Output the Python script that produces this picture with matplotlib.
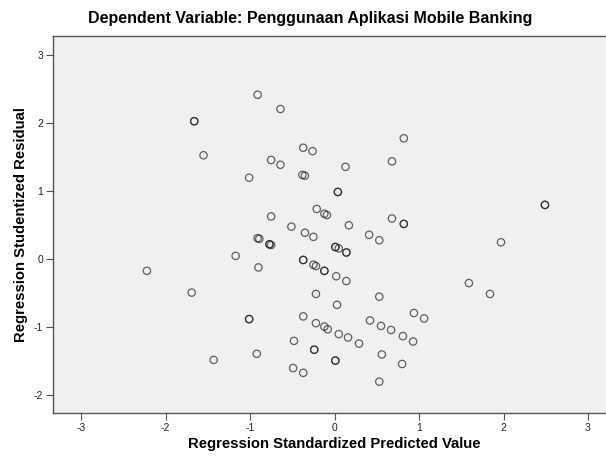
import numpy as np
import matplotlib.pyplot as plt

plt.rcParams['font.family'] = ['Liberation Sans', 'DejaVu Sans']
plt.rcParams['axes.unicode_minus'] = False

# standardized predicted values (x) and studentized residuals (y)
# repeated entries are cases that sit on top of each other
pred = [-0.91, -0.64, -1.66, -1.66, -1.55, -0.75, -0.64, -0.37, -0.26, -1.01,
        -0.38, -0.35, -0.21, -0.75, -0.51, -0.35, -0.25, -0.91, -0.89, -0.77,
        -0.77, -0.75, 0.82, 0.68, 0.13, 0.04, 0.04, -0.12, -0.09, 0.17,
        0.68, 0.82, 0.82, 2.49, 2.49, 0.41, 0.53, 1.97, -1.17, -0.90,
        -2.22, -1.69, -0.37, -0.37, -0.25, -0.22, -0.22, -1.01, -1.01, -0.37,
        -0.22, -0.48, -0.24, -0.24, -0.92, -1.43, -0.49, -0.37, 0.01, 0.01,
        0.05, 0.14, 0.14, -0.12, -0.12, 0.02, 0.14, 0.03, 0.53, 1.59,
        1.84, 0.94, 1.06, -0.12, -0.08, 0.05, 0.16, 0.29, 0.42, 0.55,
        0.67, 0.81, 0.93, 0.01, 0.01, 0.56, 0.80, 0.53]
resid = [2.42, 2.21, 2.03, 2.03, 1.53, 1.46, 1.39, 1.64, 1.59, 1.20,
         1.24, 1.23, 0.74, 0.63, 0.48, 0.39, 0.33, 0.31, 0.30, 0.22,
         0.22, 0.21, 1.78, 1.44, 1.36, 0.99, 0.99, 0.67, 0.65, 0.50,
         0.60, 0.52, 0.52, 0.80, 0.80, 0.36, 0.28, 0.25, 0.05, -0.12,
         -0.17, -0.49, -0.01, -0.01, -0.08, -0.10, -0.51, -0.88, -0.88, -0.84,
         -0.94, -1.20, -1.33, -1.33, -1.39, -1.48, -1.60, -1.67, 0.18, 0.18,
         0.16, 0.10, 0.10, -0.17, -0.17, -0.25, -0.32, -0.67, -0.55, -0.35,
         -0.51, -0.79, -0.87, -0.99, -1.03, -1.10, -1.15, -1.24, -0.90, -0.98,
         -1.04, -1.13, -1.21, -1.49, -1.49, -1.40, -1.54, -1.80]

x_ticks = [-3, -2, -1, 0, 1, 2, 3]
y_ticks = [-2, -1, 0, 1, 2, 3]

fig = plt.figure(figsize=(6.06, 4.59), dpi=100)
ax = fig.add_axes([0.0875, 0.0996, 0.929, 0.822])
ax.set_facecolor('#f0f0f0')

ax.scatter(pred, resid, s=28, facecolors='none', edgecolors='#1a1a1a',
           linewidths=0.9, alpha=0.68)

ax.set_xlim(-3.331, 3.331)
ax.set_ylim(-2.265, 3.284)
ax.set_xticks(x_ticks)
ax.set_yticks(y_ticks)
ax.tick_params(length=5, width=0.8, color='#555555', labelsize=7.5,
               labelcolor='#222222', pad=2)

for side in ['left', 'bottom', 'top']:
    ax.spines[side].set_color('#555555')
    ax.spines[side].set_linewidth(1)
ax.spines['right'].set_visible(False)

ax.set_xlabel('Regression Standardized Predicted Value', fontsize=10.7,
              fontweight='bold', labelpad=3)
ax.set_ylabel('Regression Studentized Residual', fontsize=10.7,
              fontweight='bold', labelpad=4)
fig.text(0.512, 0.96, 'Dependent Variable: Penggunaan Aplikasi Mobile Banking',
         ha='center', va='center', fontsize=11.5, fontweight='bold')

fig.savefig('out.png', dpi=100)
